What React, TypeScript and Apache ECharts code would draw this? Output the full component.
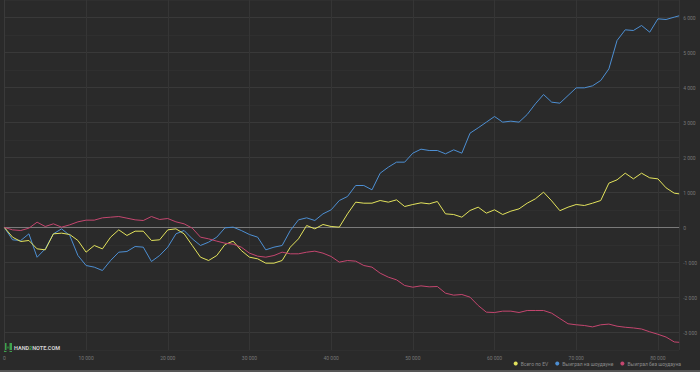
import React, { useEffect, useRef } from "react";
import * as echarts from "echarts";

// hand counts (x positions of the samples)
const hands: number[] = Array.from({ length: 83 }, (_, i) => i * 1000).concat([82600]);

// Всего по EV
const evTotal: number[] = [
  0, -276, -400, -371, -610, -638, -181, -162, -200, -371,
  -705, -514, -610, -276, -67, -228, -105, -105, -371, -352,
  -67, -38, -181, -514, -848, -943, -800, -486, -390, -657,
  -848, -895, -1019, -1019, -943, -562, -324, 57, -38, 86,
  29, 10, 390, 724, 695, 695, 771, 724, 790, 600,
  657, 705, 676, 743, 390, 371, 295, 486, 581, 410,
  505, 371, 467, 533, 695, 819, 1010, 760, 480, 581,
  657, 629, 695, 771, 1267, 1362, 1552, 1390, 1552, 1419,
  1390, 1133, 981, 962,
];

// Выиграл на шоудауне
const showdown: number[] = [
  0, -352, -371, -181, -850, -610, -181, -38, -228, -800,
  -1086, -1133, -1229, -943, -705, -686, -543, -562, -971, -800,
  -562, -181, -86, -324, -514, -419, -276, -10, 10, -86,
  -200, -276, -638, -562, -514, -86, 219, 276, 200, 390,
  505, 771, 886, 1200, 1200, 1076, 1552, 1724, 1867, 1867,
  2124, 2238, 2200, 2200, 2105, 2219, 2124, 2695, 2848, 3010,
  3171, 3010, 3038, 3010, 3229, 3533, 3800, 3581, 3552, 3771,
  3990, 3990, 4048, 4200, 4533, 5343, 5648, 5629, 5771, 5581,
  5962, 5943, 6010, 6048,
];

// Выиграл без шоудауна
const nonShowdown: number[] = [
  0, -67, -86, -19, 152, 29, 105, 10, 76, 162,
  210, 210, 276, 295, 314, 267, 219, 200, 314, 229,
  257, 162, 105, -19, -276, -324, -390, -448, -476, -562,
  -733, -819, -848, -800, -705, -752, -752, -705, -676, -733,
  -829, -990, -943, -962, -1086, -1133, -1305, -1419, -1495, -1657,
  -1705, -1667, -1695, -1686, -1876, -1933, -1914, -1990, -2229, -2419,
  -2429, -2390, -2390, -2429, -2371, -2371, -2371, -2448, -2600, -2750,
  -2780, -2800, -2840, -2780, -2760, -2820, -2850, -2870, -2900, -2980,
  -3050, -3130, -3270, -3280,
];

const seriesNames = ["Всего по EV", "Выиграл на шоудауне", "Выиграл без шоудауна"];
const seriesColors = ["#e3e35c", "#4d8fd3", "#c4466f"];

const fmt = (v: number) => {
  const s = Math.abs(v).toString().replace(/\B(?=(\d{3})+(?!\d))/g, " ");
  return (v < 0 ? "-" : "") + s;
};

export default function App() {
  const ref = useRef<HTMLDivElement>(null);
  useEffect(() => {
    if (!ref.current) return;
    const chart = echarts.init(ref.current, undefined, { renderer: "svg" });
    const values = [evTotal, showdown, nonShowdown];
    const option: any = {
      animation: false,
      backgroundColor: "#2a2a2a",
      textStyle: { fontFamily: "Roboto, 'Open Sans', sans-serif" },
      grid: { left: 2, right: 16.5, top: 0, bottom: 22, containLabel: false },
      xAxis: {
        type: "value",
        min: 0,
        max: 82600,
        interval: 10000,
        axisLine: { show: false },
        axisTick: { show: false },
        axisLabel: {
          color: "#777",
          fontSize: 5,
          margin: 5,
          showMaxLabel: false,
          formatter: (v: number) => fmt(v),
        },
        splitLine: { show: true, lineStyle: { color: "#353535", width: 1 } },
      },
      yAxis: {
        type: "value",
        position: "right",
        min: -3500,
        max: 6500,
        interval: 500,
        axisLine: { show: true, lineStyle: { color: "#3a3a3a" } },
        axisTick: { show: false },
        axisLabel: {
          color: "#777",
          fontSize: 5,
          margin: 4,
          formatter: (v: number) => (v % 1000 === 0 ? fmt(v) : ""),
        },
        splitLine: { show: true, lineStyle: { color: ["#2f2f2f", "#393939"], width: 1 } },
      },
      legend: {
        data: seriesNames,
        right: 14,
        bottom: 1,
        icon: "circle",
        itemWidth: 4,
        itemHeight: 4,
        itemGap: 7,
        textStyle: { color: "#8a8a8a", fontSize: 5, padding: [0, 0, 0, -2] },
      },
      graphic: [
        {
          type: "group",
          left: 4,
          top: 343,
          children: [
            { type: "rect", shape: { x: 0, y: 0, width: 2.5, height: 9 }, style: { fill: "#3fa34d" } },
            { type: "rect", shape: { x: 5.5, y: 0, width: 2.5, height: 9 }, style: { fill: "#3fa34d" } },
            { type: "rect", shape: { x: 2.5, y: 3.5, width: 3, height: 2 }, style: { fill: "#2d6e36" } },
            {
              type: "text",
              x: 10,
              y: 4.5,
              style: {
                text: "{a|HAND}{b|2}{a|NOTE.COM}",
                verticalAlign: "middle",
                rich: {
                  a: { fontSize: 5.5, fontWeight: "bold", fill: "#cfcfcf", fontFamily: "Roboto, sans-serif" },
                  b: { fontSize: 5.5, fontWeight: "bold", fill: "#3fa34d", fontFamily: "Roboto, sans-serif" },
                },
              },
            },
          ],
        },
        {
          type: "rect",
          left: 0,
          top: 370,
          shape: { width: 700, height: 2 },
          style: { fill: "#555" },
        },
      ],
      series: [1, 0, 2].map((idx) => ({
        name: seriesNames[idx],
        type: "line",
        showSymbol: false,
        symbol: "none",
        color: seriesColors[idx],
        lineStyle: { width: 1, color: seriesColors[idx] },
        data: hands.map((h, i) => [h, values[idx][i]]),
        z: 3,
        markLine:
          idx === 1
            ? {
                silent: true,
                symbol: "none",
                label: { show: false },
                lineStyle: { color: "#7a7a7a", type: "solid", width: 1 },
                data: [{ yAxis: 0 }],
                z: 2,
              }
            : undefined,
      })),
    };
    chart.setOption(option);
    return () => chart.dispose();
  }, []);
  return (
    <div
      ref={ref}
      style={{ position: "fixed", left: 0, top: 0, width: 700, height: 372 }}
    />
  );
}
